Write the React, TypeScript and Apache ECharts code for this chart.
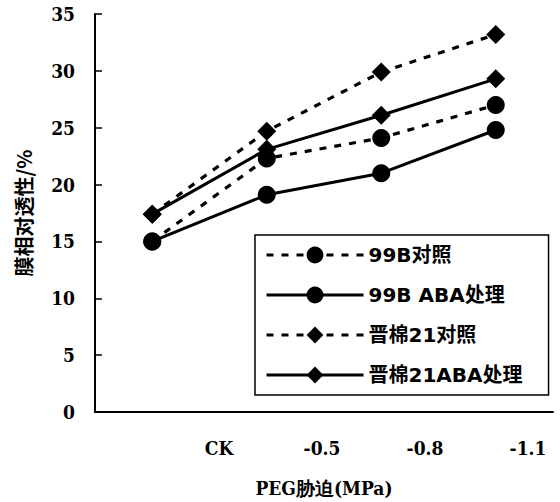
import React, { useEffect, useRef } from "react";
import * as echarts from "echarts";

const categories = ["CK", "-0.5", "-0.8", "-1.1"];
const tickLabels = ["", "CK", "-0.5", "-0.8", "-1.1"];
const yTicks = { min: 0, max: 35, interval: 5 };

const s99BControl = [15.0, 22.3, 24.1, 27.0];
const s99BABA = [15.0, 19.1, 21.0, 24.8];
const sJM21Control = [17.4, 24.7, 29.9, 33.2];
const sJM21ABA = [17.4, 23.1, 26.1, 29.3];

const seriesNames = ["99B对照", "99B ABA处理", "晋棉21对照", "晋棉21ABA处理"];

const numFont = "'DejaVu Serif Condensed', 'DejaVu Serif', serif";
const cjkFont = "'Noto Sans CJK SC', sans-serif";
const legendFont = "'DejaVu Sans', 'Noto Sans CJK SC', sans-serif";

export default function App() {
  const ref = useRef<HTMLDivElement>(null);
  useEffect(() => {
    if (!ref.current) return;
    const chart = echarts.init(ref.current, undefined, { renderer: "svg" });
    const dotted = { color: "#000", width: 3.2, type: [7, 8] as number[] };
    const solid = { color: "#000", width: 3, type: "solid" as const };
    const mk = (name: string, data: number[], symbol: string, size: number, ls: any) => ({
      name,
      type: "line",
      xAxisIndex: 0,
      yAxisIndex: 0,
      data,
      symbol,
      symbolSize: size,
      lineStyle: ls,
      itemStyle: { color: "#000", borderWidth: 0 },
      z: 3,
    });
    chart.setOption({
      animation: false,
      backgroundColor: "#fff",
      grid: [
        { left: 95, right: 7, top: 14, bottom: 90 },
        { left: 116, right: 32, top: 14, bottom: 90 },
      ],
      xAxis: [
        {
          type: "category",
          gridIndex: 0,
          data: categories,
          boundaryGap: true,
          axisLine: { lineStyle: { color: "#000", width: 2 } },
          axisTick: { inside: true, length: 6, lineStyle: { color: "#000", width: 1.5 } },
          axisLabel: { show: false },
          name: "PEG胁迫(MPa)",
          nameLocation: "middle",
          nameGap: 66,
          nameTextStyle: { color: "#000", fontSize: 19, fontWeight: "bold", fontFamily: numFont },
        },
        {
          type: "category",
          gridIndex: 1,
          data: tickLabels,
          boundaryGap: false,
          axisLine: { show: false },
          axisTick: { show: false },
          axisLabel: {
            color: "#000",
            fontSize: 19,
            fontWeight: "bold",
            fontFamily: numFont,
            margin: 26,
            interval: 0,
          },
        },
      ],
      yAxis: [
        {
          type: "value",
          gridIndex: 0,
          min: yTicks.min,
          max: yTicks.max,
          interval: yTicks.interval,
          splitLine: { show: false },
          axisLine: { show: true, lineStyle: { color: "#000", width: 2 } },
          axisTick: { show: true, inside: true, length: 7, lineStyle: { color: "#000", width: 1.5 } },
          axisLabel: {
            color: "#000",
            fontSize: 19,
            fontWeight: "bold",
            fontFamily: numFont,
            margin: 20,
          },
          name: "膜相对透性/%",
          nameLocation: "middle",
          nameRotate: 90,
          nameGap: 62,
          nameTextStyle: { color: "#000", fontSize: 20, fontWeight: "bold", fontFamily: cjkFont },
        },
        {
          type: "value",
          gridIndex: 1,
          show: false,
          min: 0,
          max: 1,
        },
      ],
      legend: {
        orient: "vertical",
        left: 255,
        top: 235,
        padding: [10, 26, 10, 10],
        itemWidth: 97,
        itemHeight: 21,
        itemGap: 20,
        borderColor: "#000",
        borderWidth: 1.5,
        backgroundColor: "#fff",
        data: seriesNames,
        lineStyle: { width: 3 },
        textStyle: { color: "#000", fontSize: 20, fontWeight: "bold", fontFamily: legendFont },
      },
      series: [
        mk(seriesNames[0], s99BControl, "circle", 18, dotted),
        mk(seriesNames[1], s99BABA, "circle", 18, solid),
        mk(seriesNames[2], sJM21Control, "diamond", 19, dotted),
        mk(seriesNames[3], sJM21ABA, "diamond", 19, solid),
      ],
    });
    return () => chart.dispose();
  }, []);
  return <div ref={ref} style={{ width: 560, height: 502, position: "absolute", left: 0, top: 0 }} />;
}
